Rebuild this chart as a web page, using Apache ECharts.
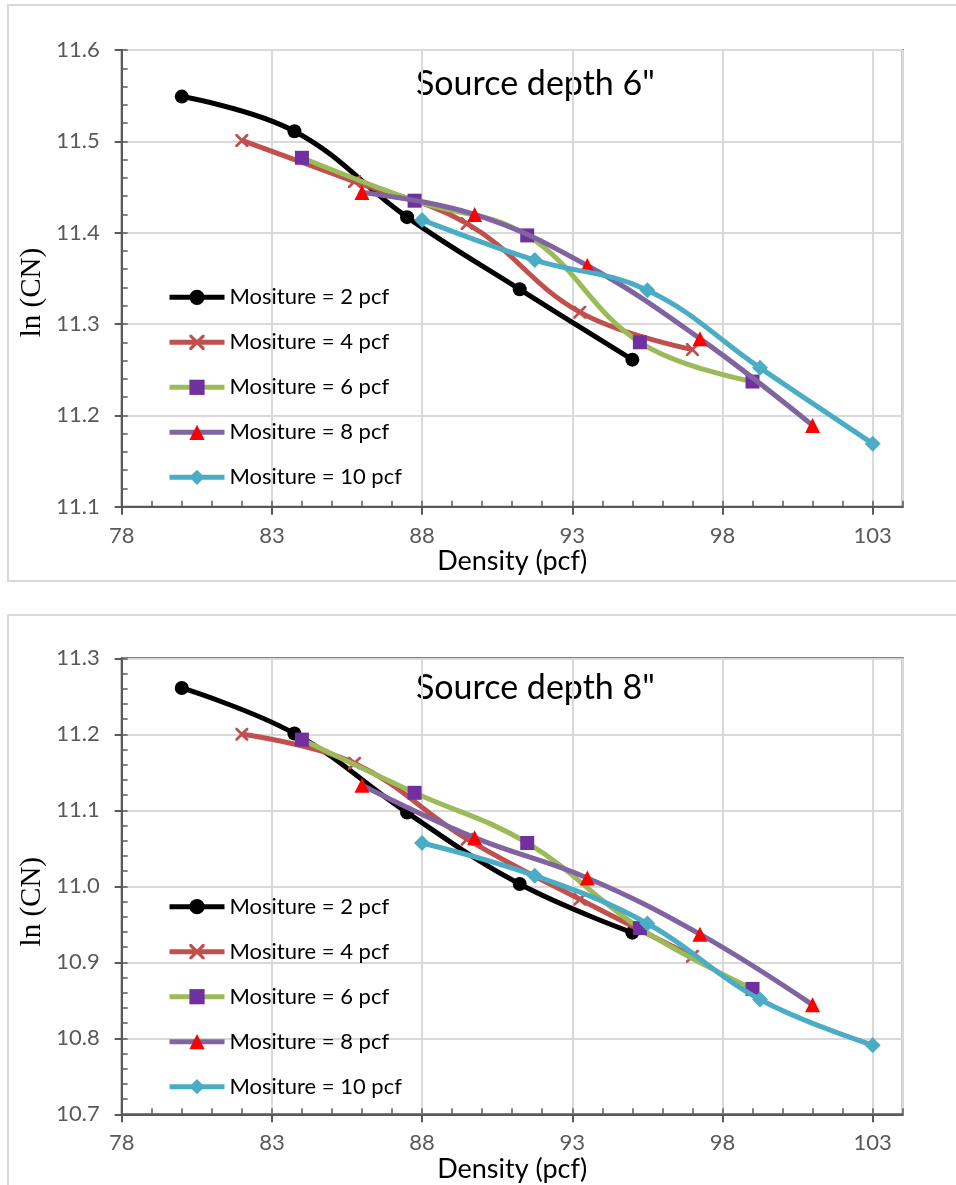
<!DOCTYPE html>
<html><head><meta charset="utf-8">
<script src="https://cdn.jsdelivr.net/npm/echarts@6/dist/echarts.min.js"></script>
<style>html,body{margin:0;padding:0;background:#fff}#c{width:956px;height:1185px}</style>
</head><body><div id="c"></div>
<script>
// ---- data ----
const seriesNames = ['Mositure = 2 pcf', 'Mositure = 4 pcf', 'Mositure = 6 pcf', 'Mositure = 8 pcf', 'Mositure = 10 pcf'];
const chartTitles = ['Source depth 6"', 'Source depth 8"'];
const xAxisName = 'Density (pcf)';
const yAxisName = 'ln (CN)';

// density (pcf) for each moisture series
const densM2  = [80, 83.75, 87.5, 91.25, 95];
const densM4  = [82, 85.75, 89.5, 93.25, 97];
const densM6  = [84, 87.75, 91.5, 95.25, 99];
const densM8  = [86, 89.75, 93.5, 97.25, 101];
const densM10 = [88, 91.75, 95.5, 99.25, 103];

// ln(CN), source depth 6"
const ln6M2  = [11.549, 11.511, 11.417, 11.338, 11.261];
const ln6M4  = [11.501, 11.456, 11.410, 11.313, 11.272];
const ln6M6  = [11.482, 11.435, 11.397, 11.280, 11.237];
const ln6M8  = [11.444, 11.420, 11.364, 11.284, 11.189];
const ln6M10 = [11.414, 11.370, 11.337, 11.252, 11.169];

// ln(CN), source depth 8"
const ln8M2  = [11.261, 11.201, 11.097, 11.003, 10.939];
const ln8M4  = [11.200, 11.162, 11.062, 10.983, 10.908];
const ln8M6  = [11.193, 11.123, 11.057, 10.945, 10.865];
const ln8M8  = [11.133, 11.064, 11.011, 10.937, 10.844];
const ln8M10 = [11.057, 11.014, 10.951, 10.851, 10.791];

// axis ranges
const xRange = {min: 78, max: 104, interval: 5, minor: 1};
const yRange6 = {min: 11.1, max: 11.6, interval: 0.1, minor: 0.02};
const yRange8 = {min: 10.7, max: 11.3, interval: 0.1, minor: 0.02};

// ---- styles ----
const crossPath = 'path://M0,0L3,0L10,7L17,0L20,0L20,3L13,10L20,17L20,20L17,20L10,13L3,20L0,20L0,17L7,10L0,3Z';
const styles = [
  {line: '#000000', marker: '#000000', symbol: 'circle', size: 14},
  {line: '#C0504D', marker: '#C0504D', symbol: crossPath, size: 13},
  {line: '#9BBB59', marker: '#7030A0', symbol: 'rect', size: 14},
  {line: '#8064A2', marker: '#FF0000', symbol: 'triangle', size: 15},
  {line: '#4BACC6', marker: '#4BACC6', symbol: 'diamond', size: 16}
];
const FONT = 'Lato';
const AX = '#595959';
const GRIDC = '#d9d9d9';

const densities = [densM2, densM4, densM6, densM8, densM10];
const ln6 = [ln6M2, ln6M4, ln6M6, ln6M8, ln6M10];
const ln8 = [ln8M2, ln8M4, ln8M6, ln8M8, ln8M10];

function mkSeries(g, ys) {
  return seriesNames.map((name, i) => ({
    type: 'line', name: name,
    xAxisIndex: g * 2, yAxisIndex: g * 2,
    data: densities[i].map((x, k) => [x, ys[i][k]]),
    smooth: 0.4,
    symbol: styles[i].symbol, symbolSize: styles[i].size, showSymbol: true,
    lineStyle: {color: styles[i].line, width: 5},
    itemStyle: {color: styles[i].marker},
    emphasis: {disabled: true},
    z: 2 + i
  }));
}

function mainX(g) {
  return {
    type: 'value', gridIndex: g, position: 'bottom',
    min: xRange.min, max: xRange.max, interval: xRange.interval,
    axisLine: {show: true, onZero: false, lineStyle: {color: AX, width: 2}},
    axisTick: {show: true, inside: false, length: 8, lineStyle: {color: AX, width: 2}},
    axisLabel: {color: AX, fontSize: 22, fontFamily: FONT, margin: 18, showMaxLabel: false},
    splitLine: {show: true, lineStyle: {color: GRIDC, width: 2}},
    name: xAxisName, nameLocation: 'middle', nameGap: 41,
    nameTextStyle: {color: '#000', fontSize: 27, fontFamily: FONT}
  };
}
function minorX(g) {
  return {
    type: 'value', gridIndex: g, position: 'bottom',
    min: xRange.min, max: xRange.max, interval: xRange.minor,
    axisLine: {show: false}, axisLabel: {show: false}, splitLine: {show: false},
    axisTick: {show: true, inside: true, length: 6, lineStyle: {color: AX, width: 1.5}}
  };
}
function mainY(g, r) {
  return {
    type: 'value', gridIndex: g, position: 'left',
    min: r.min, max: r.max, interval: r.interval,
    axisLine: {show: true, onZero: false, lineStyle: {color: AX, width: 2}},
    axisTick: {show: true, inside: false, length: 7, lineStyle: {color: AX, width: 2}},
    axisLabel: {color: AX, fontSize: 22, fontFamily: FONT, margin: 22, formatter: v => v.toFixed(1)},
    splitLine: {show: true, lineStyle: {color: GRIDC, width: 2}}
  };
}
function minorY(g, r) {
  return {
    type: 'value', gridIndex: g, position: 'left',
    min: r.min, max: r.max, interval: r.minor,
    axisLine: {show: false}, axisLabel: {show: false}, splitLine: {show: false},
    axisTick: {show: true, inside: true, length: 6, lineStyle: {color: AX, width: 1.5}}
  };
}
function mkLegend(top) {
  return {
    orient: 'vertical', left: 167, top: top, padding: 0,
    itemWidth: 55, itemHeight: 19, itemGap: 21, selectedMode: false,
    lineStyle: {width: 5},
    textStyle: {fontSize: 22, fontFamily: FONT, color: '#000', lineHeight: 24},
    data: seriesNames
  };
}

const chart = echarts.init(document.getElementById('c'), null, {renderer: 'canvas'});
chart.setOption({
  animation: false,
  backgroundColor: '#fff',
  grid: [
    {left: 121.7, top: 50, width: 781, height: 456.7, show: true, borderColor: AX, borderWidth: 2, backgroundColor: 'transparent'},
    {left: 121.7, top: 658.3, width: 781, height: 456, show: true, borderColor: AX, borderWidth: 2, backgroundColor: 'transparent'}
  ],
  xAxis: [mainX(0), minorX(0), mainX(1), minorX(1)],
  yAxis: [mainY(0, yRange6), minorY(0, yRange6), mainY(1, yRange8), minorY(1, yRange8)],
  legend: [mkLegend(285.3), mkLegend(894.7)],
  series: mkSeries(0, ln6).concat(mkSeries(1, ln8)),
  graphic: [
    {type: 'rect', shape: {x: 8, y: 5, width: 980, height: 576}, style: {fill: 'none', stroke: GRIDC, lineWidth: 2}, silent: true},
    {type: 'rect', shape: {x: 8, y: 615, width: 980, height: 620}, style: {fill: 'none', stroke: GRIDC, lineWidth: 2}, silent: true},
    {type: 'text', x: 416, y: 84, style: {text: chartTitles[0], fontSize: 34, fontFamily: FONT, fill: '#000', verticalAlign: 'middle'}},
    {type: 'text', x: 416, y: 688, style: {text: chartTitles[1], fontSize: 34, fontFamily: FONT, fill: '#000', verticalAlign: 'middle'}},
    {type: 'text', x: 32, y: 292.5, rotation: Math.PI / 2, style: {text: yAxisName, fontSize: 29, fontFamily: 'Liberation Serif', fill: '#000', align: 'center', verticalAlign: 'middle'}},
    {type: 'text', x: 32, y: 901.7, rotation: Math.PI / 2, style: {text: yAxisName, fontSize: 29, fontFamily: 'Liberation Serif', fill: '#000', align: 'center', verticalAlign: 'middle'}}
  ]
});
</script>
</body></html>
